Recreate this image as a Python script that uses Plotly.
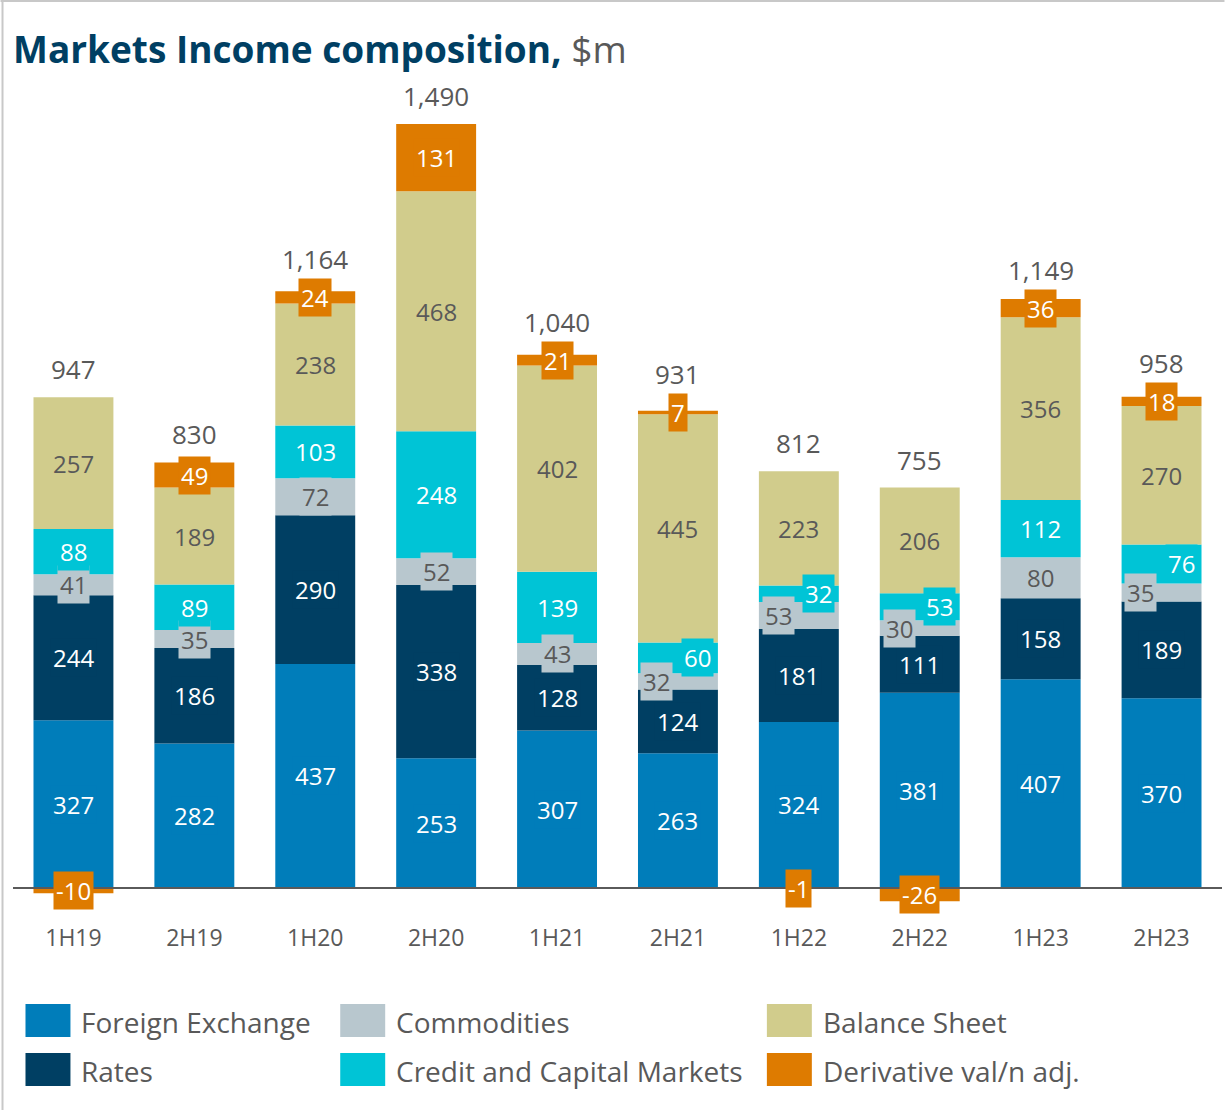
import plotly.graph_objects as go

# ---- data -------------------------------------------------------------
periods = ["1H19", "2H19", "1H20", "2H20", "1H21", "2H21", "1H22", "2H22", "1H23", "2H23"]

foreign_exchange = [327, 282, 437, 253, 307, 263, 324, 381, 407, 370]
rates = [244, 186, 290, 338, 128, 124, 181, 111, 158, 189]
commodities = [41, 35, 72, 52, 43, 32, 53, 30, 80, 35]
credit_capital = [88, 89, 103, 248, 139, 60, 32, 53, 112, 76]
balance_sheet = [257, 189, 238, 468, 402, 445, 223, 206, 356, 270]
derivative_adj = [-10, 49, 24, 131, 21, 7, -1, -26, 36, 18]

totals = [947, 830, 1164, 1490, 1040, 931, 812, 755, 1149, 958]

# ---- styling ----------------------------------------------------------
FONT = "Open Sans"
GREY_TEXT = "#595959"
series = [
    ("Foreign Exchange", foreign_exchange, "#007DBA", "white"),
    ("Rates", rates, "#003F63", "white"),
    ("Commodities", commodities, "#B8C7CE", GREY_TEXT),
    ("Credit and Capital Markets", credit_capital, "#00C4D6", "white"),
    ("Balance Sheet", balance_sheet, "#D1CC8C", GREY_TEXT),
    ("Derivative val/n adj.", derivative_adj, "#DE7B00", "white"),
]

# horizontal nudges (px) for labels on thin segments sitting side by side
label_shift = {
    ("Commodities", "2H21"): -21, ("Credit and Capital Markets", "2H21"): 20,
    ("Commodities", "1H22"): -20, ("Credit and Capital Markets", "1H22"): 20,
    ("Commodities", "2H22"): -20, ("Credit and Capital Markets", "2H22"): 20,
    ("Commodities", "2H23"): -21, ("Credit and Capital Markets", "2H23"): 20,
}

W, H = 1225, 1110
ML, MR, MT, MB = 12.5, 2.5, 100, 205
PW, PH = W - ML - MR, H - MT - MB
scale = 0.5127  # px per $m
zero_px = 888
LABEL_HALF_H = 17  # half height of a boxed segment label, px

fig = go.Figure()
for name, vals, color, _ in series:
    fig.add_trace(go.Bar(
        x=periods, y=vals, name=name,
        marker=dict(color=color, line=dict(width=0)),
        hoverinfo="x+y+name",
    ))

annotations = []

# segment value labels, placed at the middle of each stacked segment
pos_base = [0] * len(periods)
neg_base = [0] * len(periods)
for name, vals, color, txt_color in series:
    for i, v in enumerate(vals):
        if v >= 0:
            mid = pos_base[i] + v / 2
            pos_base[i] += v
        else:
            mid = neg_base[i] + v / 2
            neg_base[i] += v
        annotations.append(dict(
            x=periods[i], y=mid, xref="x", yref="y",
            text=str(v), showarrow=False,
            xshift=label_shift.get((name, periods[i]), 0),
            font=dict(family=FONT, size=24, color=txt_color),
            bgcolor=color, borderpad=2,
        ))

# totals above each column, lifted clear of a top label box that sticks out
for i, t in enumerate(totals):
    lift = 8
    if derivative_adj[i] > 0:
        protrude = LABEL_HALF_H - derivative_adj[i] / 2 * scale
        lift = max(lift, protrude + 1)
    annotations.append(dict(
        x=periods[i], y=pos_base[i], xref="x", yref="y",
        text=f"{t:,}", showarrow=False, yanchor="bottom", yshift=lift,
        font=dict(family=FONT, size=26, color=GREY_TEXT),
    ))


def px_x(px):
    return (px - ML) / PW


def px_y(py):
    return (H - MB - py) / PH


# hand-laid legend: swatch + label in a 3 x 2 grid (pixel positions)
legend_cells = [
    (0, 25, 1004), (1, 25, 1053),
    (2, 340, 1004), (3, 340, 1053),
    (4, 767, 1004), (5, 767, 1053),
]
shapes = []
for idx, lx, ly in legend_cells:
    name, _, color, _ = series[idx]
    shapes.append(dict(
        type="rect", xref="paper", yref="paper",
        x0=px_x(lx), x1=px_x(lx + 45), y0=px_y(ly + 33), y1=px_y(ly),
        fillcolor=color, line=dict(width=0), layer="above",
    ))
    annotations.append(dict(
        x=px_x(lx + 54), y=px_y(ly + 18), xref="paper", yref="paper",
        text=name, showarrow=False, xanchor="left", yanchor="middle",
        font=dict(family=FONT, size=28, color=GREY_TEXT),
    ))

# baseline
shapes.append(dict(
    type="line", xref="paper", yref="y", x0=0, x1=1, y0=0, y1=0,
    line=dict(color="#5A5A5A", width=2), layer="above",
))
# frame lines along the top and left edges
shapes.append(dict(
    type="line", xref="paper", yref="paper",
    x0=px_x(0), x1=px_x(W), y0=px_y(1), y1=px_y(1),
    line=dict(color="#C8C8C8", width=2),
))
shapes.append(dict(
    type="line", xref="paper", yref="paper",
    x0=px_x(2), x1=px_x(2), y0=px_y(0), y1=px_y(H),
    line=dict(color="#C8C8C8", width=2),
))

y_min = -((H - MB) - zero_px) / scale
y_max = y_min + PH / scale

fig.update_layout(
    width=W, height=H,
    margin=dict(l=ML, r=MR, t=MT, b=MB, pad=0),
    paper_bgcolor="white", plot_bgcolor="white",
    barmode="relative", bargap=0.339,
    showlegend=False,
    title=dict(
        text="<b>Markets Income composition,</b> <span style='color:#595959;font-weight:normal'>$m</span>",
        x=13 / W, xref="container", xanchor="left",
        y=1 - 50 / H, yref="container", yanchor="middle",
        font=dict(family=FONT, size=37, color="#003F63"),
    ),
    xaxis=dict(
        type="category", range=[-0.5, len(periods) - 0.5],
        showgrid=False, showline=False, zeroline=False, ticks="",
        tickfont=dict(family=FONT, size=23, color=GREY_TEXT),
        ticklabelstandoff=17,
    ),
    yaxis=dict(
        range=[y_min, y_max], visible=False, showgrid=False, zeroline=False,
    ),
    annotations=annotations,
    shapes=shapes,
)

fig.write_html("out.html")
